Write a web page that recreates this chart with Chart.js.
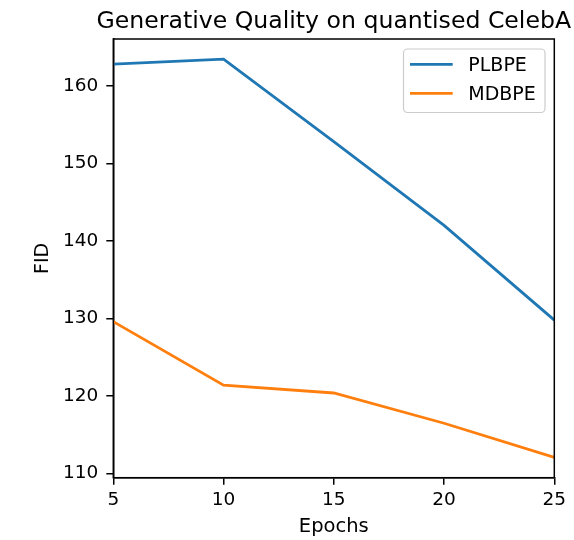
<!DOCTYPE html>
<html>
<head>
<meta charset="utf-8">
<script src="https://cdn.jsdelivr.net/npm/chart.js@4.4.1/dist/chart.umd.min.js"></script>
<style>
  html, body { margin: 0; padding: 0; background: #fff; }
  #wrap { width: 574px; height: 540px; }
</style>
</head>
<body>
<div id="wrap"><canvas id="fidChart" width="574" height="540"></canvas></div>
<script>
const epochs = [5, 10, 15, 20, 25];
const plbpe = [162.8, 163.45, 152.8, 142.0, 129.8];
const mdbpe = [129.6, 121.4, 120.4, 116.5, 112.1];
const xTicks = [5, 10, 15, 20, 25];
const yTicks = [110, 120, 130, 140, 150, 160];

const FONT = "'DejaVu Sans', sans-serif";

const framePlugin = {
  id: 'frame',
  afterDraw(chart) {
    const { ctx, chartArea: a } = chart;
    ctx.save();
    ctx.strokeStyle = '#000';
    ctx.lineWidth = 1.5;
    ctx.strokeRect(a.left, a.top, a.right - a.left, a.bottom - a.top);

    // title
    ctx.fillStyle = '#000';
    ctx.font = `23.6px ${FONT}`;
    ctx.textAlign = 'center';
    ctx.textBaseline = 'alphabetic';
    ctx.fillText('Generative Quality on quantised CelebA', (a.left + a.right) / 2, 27.5);

    // legend
    const bx = 403.5, by = 49, bw = 141.5, bh = 63.5;
    ctx.beginPath();
    ctx.roundRect(bx, by, bw, bh, 4);
    ctx.fillStyle = 'rgba(255,255,255,0.8)';
    ctx.fill();
    ctx.strokeStyle = '#cccccc';
    ctx.lineWidth = 1.2;
    ctx.stroke();
    const rows = [64.3, 93.3];
    chart.data.datasets.forEach((ds, i) => {
      const y = rows[i];
      ctx.beginPath();
      ctx.moveTo(410, y);
      ctx.lineTo(452.7, y);
      ctx.strokeStyle = ds.borderColor;
      ctx.lineWidth = 2.8;
      ctx.stroke();
      ctx.fillStyle = '#000';
      ctx.font = `19px ${FONT}`;
      ctx.textAlign = 'left';
      ctx.fillText(ds.label, 468.3, y + 6.9);
    });
    ctx.restore();
  }
};

new Chart(document.getElementById('fidChart'), {
  type: 'line',
  data: {
    datasets: [
      {
        label: 'PLBPE',
        data: epochs.map((e, i) => ({ x: e, y: plbpe[i] })),
        borderColor: '#1f77b4',
        borderWidth: 2.8,
        pointRadius: 0,
        tension: 0,
        fill: false
      },
      {
        label: 'MDBPE',
        data: epochs.map((e, i) => ({ x: e, y: mdbpe[i] })),
        borderColor: '#ff7f0e',
        borderWidth: 2.8,
        pointRadius: 0,
        tension: 0,
        fill: false
      }
    ]
  },
  options: {
    responsive: false,
    animation: false,
    layout: { padding: { top: 39, right: 19.7, left: 0, bottom: 0 } },
    plugins: {
      legend: { display: false },
      title: { display: false },
      tooltip: { enabled: false }
    },
    scales: {
      x: {
        type: 'linear',
        min: 5,
        max: 25,
        afterBuildTicks: (scale) => { scale.ticks = xTicks.map((v) => ({ value: v })); },
        afterFit: (scale) => { scale.height = 62.3; },
        grid: { drawOnChartArea: false, drawTicks: true, tickLength: 7, color: '#000', lineWidth: 1.5 },
        border: { display: true, color: '#000', width: 1.5 },
        ticks: { color: '#000', font: { family: FONT, size: 18.5 }, padding: 4, maxRotation: 0 },
        title: { display: true, text: 'Epochs', color: '#000', font: { family: FONT, size: 19.5 }, padding: { top: 0, bottom: 1.5 } }
      },
      y: {
        min: 109.48,
        max: 166.04,
        afterBuildTicks: (scale) => { scale.ticks = yTicks.map((v) => ({ value: v })); },
        afterFit: (scale) => { scale.width = 113.3; },
        grid: { drawOnChartArea: false, drawTicks: true, tickLength: 7, color: '#000', lineWidth: 1.5 },
        border: { display: true, color: '#000', width: 1.5 },
        ticks: { color: '#000', font: { family: FONT, size: 18.5 }, padding: 8 },
        title: { display: true, text: 'FID', color: '#000', font: { family: FONT, size: 19 }, padding: { top: 32, bottom: 0 } }
      }
    }
  },
  plugins: [framePlugin]
});
</script>
</body>
</html>
